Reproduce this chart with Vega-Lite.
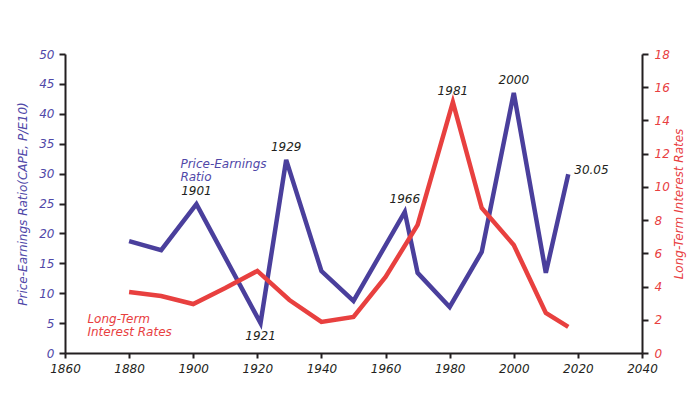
{
  "$schema": "https://vega.github.io/schema/vega-lite/v6.json",
  "width": 577,
  "height": 299,
  "autosize": "none",
  "padding": {"left": 65, "top": 54, "right": 57, "bottom": 46},
  "background": "white",
  "config": {
    "view": {"stroke": null},
    "font": "DejaVu Sans",
    "axis": {
      "grid": false,
      "domainColor": "#231f20",
      "domainWidth": 2,
      "tickColor": "#231f20",
      "tickWidth": 2,
      "labelFont": "DejaVu Sans",
      "labelFontStyle": "italic",
      "labelFontSize": 12,
      "titleFont": "DejaVu Sans",
      "titleFontStyle": "italic",
      "titleFontWeight": "normal",
      "titleFontSize": 12
    }
  },
  "datasets": {
    "pe": [
      {"year": 1880, "pe": 18.7, "label": null},
      {"year": 1890, "pe": 17.2, "label": null},
      {"year": 1901, "pe": 24.9, "label": "1901"},
      {"year": 1921, "pe": 5.0, "label": "1921"},
      {"year": 1929, "pe": 32.3, "label": "1929"},
      {"year": 1940, "pe": 13.7, "label": null},
      {"year": 1950, "pe": 8.7, "label": null},
      {"year": 1966, "pe": 23.6, "label": "1966"},
      {"year": 1970, "pe": 13.4, "label": null},
      {"year": 1980, "pe": 7.7, "label": null},
      {"year": 1990, "pe": 16.9, "label": null},
      {"year": 2000, "pe": 43.5, "label": "2000"},
      {"year": 2010, "pe": 13.4, "label": null},
      {"year": 2017, "pe": 29.9, "label": "30.05"}
    ],
    "rates": [
      {"year": 1880, "rate": 3.67, "label": null},
      {"year": 1890, "rate": 3.43, "label": null},
      {"year": 1900, "rate": 2.95, "label": null},
      {"year": 1910, "rate": 3.91, "label": null},
      {"year": 1920, "rate": 4.94, "label": null},
      {"year": 1930, "rate": 3.19, "label": null},
      {"year": 1940, "rate": 1.87, "label": null},
      {"year": 1950, "rate": 2.17, "label": null},
      {"year": 1960, "rate": 4.58, "label": null},
      {"year": 1970, "rate": 7.71, "label": null},
      {"year": 1981, "rate": 15.1, "label": "1981"},
      {"year": 1990, "rate": 8.73, "label": null},
      {"year": 2000, "rate": 6.5, "label": null},
      {"year": 2010, "rate": 2.41, "label": null},
      {"year": 2017, "rate": 1.57, "label": null}
    ],
    "peName": [{"year": 1896, "pe": 32.5, "name": "Price-Earnings\nRatio"}],
    "rateName": [{"year": 1867, "rate": 2.35, "name": "Long-Term\nInterest Rates"}]
  },
  "encoding": {
    "x": {
      "field": "year",
      "type": "quantitative",
      "scale": {"domain": [1860, 2040], "nice": false, "zero": false},
      "axis": {
        "title": null,
        "values": [1860, 1880, 1900, 1920, 1940, 1960, 1980, 2000, 2020, 2040],
        "format": "d",
        "labelColor": "#231f20",
        "tickSize": 5,
        "labelPadding": 5,
        "labelFlush": false
      }
    }
  },
  "layer": [
    {
      "encoding": {
        "y": {
          "field": "pe",
          "type": "quantitative",
          "scale": {"domain": [0, 50], "nice": false},
          "axis": {
            "orient": "left",
            "title": "Price-Earnings Ratio(CAPE, P/E10)",
            "titleColor": "#5048a8",
            "labelColor": "#5048a8",
            "values": [0, 5, 10, 15, 20, 25, 30, 35, 40, 45, 50],
            "tickSize": 6,
            "labelPadding": 5,
            "titlePadding": 9
          }
        }
      },
      "layer": [
        {
          "data": {"name": "pe"},
          "mark": {"type": "line", "color": "#4a3f9c", "strokeWidth": 4.5, "strokeJoin": "miter"}
        },
        {
          "data": {"name": "pe"},
          "transform": [{"filter": "datum.label != null && datum.label != '1921' && datum.label != '30.05'"}],
          "mark": {"type": "text", "dy": -13, "fontSize": 12, "fontStyle": "italic", "color": "#231f20", "font": "DejaVu Sans"},
          "encoding": {"text": {"field": "label"}}
        },
        {
          "data": {"name": "pe"},
          "transform": [{"filter": "datum.label == '1921'"}],
          "mark": {"type": "text", "dy": 13, "fontSize": 12, "fontStyle": "italic", "color": "#231f20", "font": "DejaVu Sans"},
          "encoding": {"text": {"field": "label"}}
        },
        {
          "data": {"name": "pe"},
          "transform": [{"filter": "datum.label == '30.05'"}],
          "mark": {"type": "text", "align": "left", "dx": 6, "dy": -4, "fontSize": 12, "fontStyle": "italic", "color": "#231f20", "font": "DejaVu Sans"},
          "encoding": {"text": {"field": "label"}}
        },
        {
          "data": {"name": "peName"},
          "mark": {"type": "text", "align": "left", "baseline": "top", "lineBreak": "\n", "lineHeight": 13, "fontSize": 12, "fontStyle": "italic", "color": "#5048a8", "font": "DejaVu Sans"},
          "encoding": {"text": {"field": "name"}}
        }
      ]
    },
    {
      "encoding": {
        "y": {
          "field": "rate",
          "type": "quantitative",
          "scale": {"domain": [0, 18], "nice": false},
          "axis": {
            "orient": "right",
            "title": "Long-Term Interest Rates",
            "titleColor": "#e8403f",
            "labelColor": "#e8403f",
            "titleAngle": 270,
            "titleBaseline": "bottom",
            "values": [0, 2, 4, 6, 8, 10, 12, 14, 16, 18],
            "tickSize": 6,
            "labelPadding": 6,
            "titlePadding": 16
          }
        }
      },
      "layer": [
        {
          "data": {"name": "rates"},
          "mark": {"type": "line", "color": "#e8403f", "strokeWidth": 4.5, "strokeJoin": "miter"}
        },
        {
          "data": {"name": "rates"},
          "transform": [{"filter": "datum.label != null"}],
          "mark": {"type": "text", "dy": -11, "fontSize": 12, "fontStyle": "italic", "color": "#231f20", "font": "DejaVu Sans"},
          "encoding": {"text": {"field": "label"}}
        },
        {
          "data": {"name": "rateName"},
          "mark": {"type": "text", "align": "left", "baseline": "top", "lineBreak": "\n", "lineHeight": 13, "fontSize": 12, "fontStyle": "italic", "color": "#e8403f", "font": "DejaVu Sans"},
          "encoding": {"text": {"field": "name"}}
        }
      ]
    }
  ],
  "resolve": {"scale": {"y": "independent"}}
}
